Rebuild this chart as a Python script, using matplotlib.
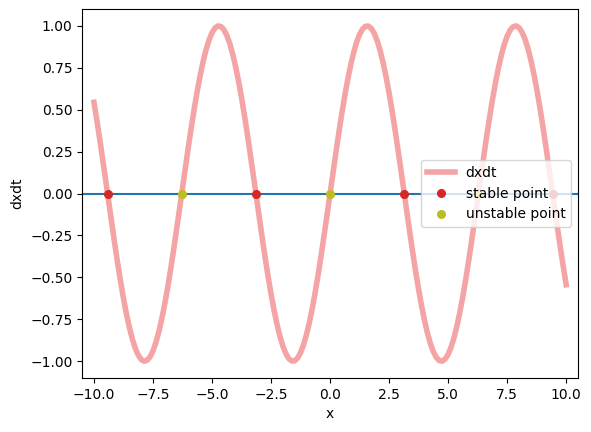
#Purpose: phase line of dx/dt with its fixed points
import numpy as np
import matplotlib.pyplot as plt

#curve values, step 0.125 from 0 to 10 (the curve is odd)
x_step = 0.125
dxdt_pos = [0.0, 0.1247, 0.2474, 0.3663, 0.4794, 0.5851, 0.6816, 0.7675,
            0.8415, 0.9023, 0.9490, 0.9809, 0.9975, 0.9985, 0.9840, 0.9541,
            0.9093, 0.8503, 0.7781, 0.6937, 0.5985, 0.4939, 0.3817, 0.2634,
            0.1411, 0.0166, -0.1082, -0.2313, -0.3508, -0.4648, -0.5716, -0.6694,
            -0.7568, -0.8324, -0.8950, -0.9436, -0.9775, -0.9962, -0.9993, -0.9868,
            -0.9589, -0.9161, -0.8589, -0.7884, -0.7055, -0.6117, -0.5083, -0.3970,
            -0.2794, -0.1575, -0.0332, 0.0917, 0.2151, 0.3352, 0.4500, 0.5579,
            0.6570, 0.7459, 0.8231, 0.8875, 0.9380, 0.9739, 0.9946, 0.9998,
            0.9894, 0.9635, 0.9228, 0.8673, 0.7985, 0.7172, 0.6248, 0.5225,
            0.4121, 0.2953, 0.1739, 0.0498, -0.0752, -0.1989, -0.3195, -0.4351,
            -0.5440]

x_pos = [i * x_step for i in range(len(dxdt_pos))]
x = [-v for v in x_pos[:0:-1]] + x_pos
dxdt = [-v for v in dxdt_pos[:0:-1]] + dxdt_pos

#fixed points
stable_x = [-9.4248, -3.1416, 3.1416, 9.4248]
unstable_x = [-6.2832, 0.0, 6.2832]

fig, ax = plt.subplots(figsize=(5.91, 4.32), dpi=100)
fig.subplots_adjust(left=0.139, right=0.978, bottom=0.125, top=0.979)

ax.plot(x, dxdt, color='#f4a4a4', linewidth=4, label='dxdt', solid_joinstyle='round')
ax.axhline(0, color='tab:blue', linewidth=1.5)
ax.plot(stable_x, [0] * len(stable_x), 'o', color='tab:red', markersize=5.5, label='stable point')
ax.plot(unstable_x, [0] * len(unstable_x), 'o', color='tab:olive', markersize=5.5, label='unstable point')

ax.set_xlim(-10.5, 10.5)
ax.set_ylim(-1.1, 1.1)
ax.set_xlabel('x')
ax.set_ylabel('dxdt')
ax.legend(loc='center right')

fig.savefig('out.png')
